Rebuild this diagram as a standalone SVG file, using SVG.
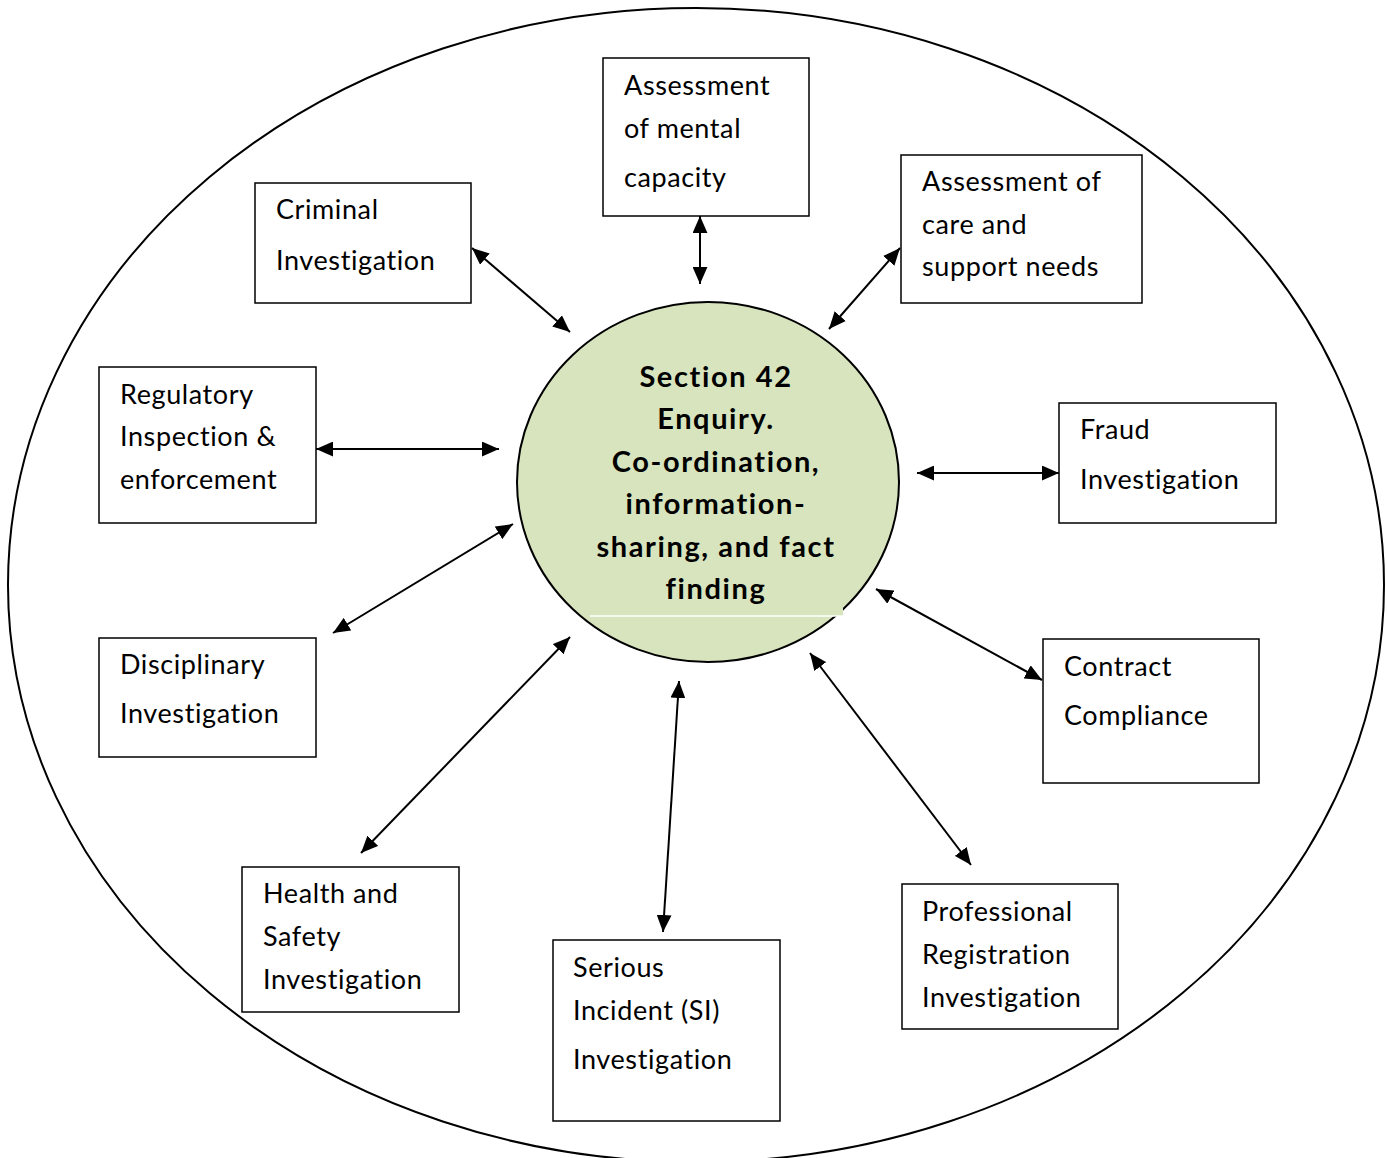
<svg xmlns="http://www.w3.org/2000/svg" width="1387" height="1158" viewBox="0 0 1387 1158">
<style>
.box{fill:#fff;stroke:#000;stroke-width:1.5}
.t{font-family:Lato,"Open Sans","Liberation Sans",sans-serif;font-size:27px;letter-spacing:0.6px;fill:#000}
.c{font-family:Lato,"Open Sans","Liberation Sans",sans-serif;font-size:29px;letter-spacing:1.6px;font-weight:bold;fill:#000;text-anchor:middle}
.ln{stroke:#000;stroke-width:2;fill:none;marker-start:url(#ah);marker-end:url(#ah)}
</style>
<defs>
<marker id="ah" viewBox="0 0 16 14" refX="16" refY="7" markerWidth="17" markerHeight="15" markerUnits="userSpaceOnUse" orient="auto-start-reverse">
<path d="M0,0 L16,7 L0,14 z" fill="#000"/>
</marker>
</defs>
<rect width="1387" height="1158" fill="#fff"/>
<ellipse id="outer" cx="696" cy="585" rx="688" ry="577" fill="none" stroke="#000" stroke-width="2"/>
<g id="center">
<ellipse cx="708" cy="482" rx="191" ry="180" fill="#d7e4bd" stroke="#000" stroke-width="2"/>
<rect x="590" y="560" width="253" height="56" fill="#d7e4bd"/>
<line x1="590" y1="616" x2="843" y2="616" stroke="#fff" stroke-width="1.5"/>
<text class="c" x="716" y="387">Section 42</text>
<text class="c" x="716" y="429">Enquiry.</text>
<text class="c" x="716" y="472">Co-ordination,</text>
<text class="c" x="716" y="514">information-</text>
<text class="c" x="716" y="557">sharing, and fact</text>
<text class="c" x="716" y="599">finding</text>
</g>
<g id="connectors">
<line class="ln" x1="472" y1="248" x2="570" y2="332"/>
<line class="ln" x1="700" y1="216" x2="700" y2="284"/>
<line class="ln" x1="900" y1="248" x2="829" y2="329"/>
<line class="ln" x1="316" y1="449" x2="499" y2="449"/>
<line class="ln" x1="917" y1="473" x2="1059" y2="473"/>
<line class="ln" x1="333" y1="633" x2="513" y2="524"/>
<line class="ln" x1="876" y1="589" x2="1042" y2="680"/>
<line class="ln" x1="361" y1="853" x2="570" y2="637"/>
<line class="ln" x1="679" y1="681" x2="663" y2="932"/>
<line class="ln" x1="810" y1="653" x2="971" y2="865"/>
</g>
<g id="mental">
<rect class="box" x="603" y="58" width="206" height="158"/>
<text class="t" x="624" y="95">Assessment</text>
<text class="t" x="624" y="138">of mental</text>
<text class="t" x="624" y="187">capacity</text>
</g>
<g id="criminal">
<rect class="box" x="255" y="183" width="216" height="120"/>
<text class="t" x="276" y="219">Criminal</text>
<text class="t" x="276" y="270">Investigation</text>
</g>
<g id="care">
<rect class="box" x="901" y="155" width="241" height="148"/>
<text class="t" x="922" y="191">Assessment of</text>
<text class="t" x="922" y="234">care and</text>
<text class="t" x="922" y="276">support needs</text>
</g>
<g id="regulatory">
<rect class="box" x="99" y="367" width="217" height="156"/>
<text class="t" x="120" y="404">Regulatory</text>
<text class="t" x="120" y="446">Inspection &amp;</text>
<text class="t" x="120" y="489">enforcement</text>
</g>
<g id="fraud">
<rect class="box" x="1059" y="403" width="217" height="120"/>
<text class="t" x="1080" y="439">Fraud</text>
<text class="t" x="1080" y="489">Investigation</text>
</g>
<g id="disciplinary">
<rect class="box" x="99" y="638" width="217" height="119"/>
<text class="t" x="120" y="674">Disciplinary</text>
<text class="t" x="120" y="723">Investigation</text>
</g>
<g id="contract">
<rect class="box" x="1043" y="639" width="216" height="144"/>
<text class="t" x="1064" y="676">Contract</text>
<text class="t" x="1064" y="725">Compliance</text>
</g>
<g id="health">
<rect class="box" x="242" y="867" width="217" height="145"/>
<text class="t" x="263" y="903">Health and</text>
<text class="t" x="263" y="946">Safety</text>
<text class="t" x="263" y="989">Investigation</text>
</g>
<g id="serious">
<rect class="box" x="553" y="940" width="227" height="181"/>
<text class="t" x="573" y="977">Serious</text>
<text class="t" x="573" y="1020">Incident (SI)</text>
<text class="t" x="573" y="1069">Investigation</text>
</g>
<g id="professional">
<rect class="box" x="902" y="884" width="216" height="145"/>
<text class="t" x="922" y="921">Professional</text>
<text class="t" x="922" y="964">Registration</text>
<text class="t" x="922" y="1007">Investigation</text>
</g>
</svg>
